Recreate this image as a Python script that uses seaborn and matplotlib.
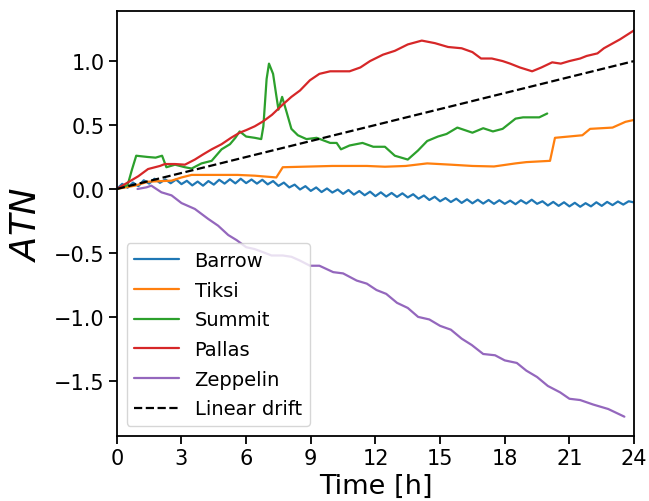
import numpy as np
import pandas as pd
import matplotlib
matplotlib.use("Agg")
import matplotlib.pyplot as plt
import seaborn as sns

# ---- data -----------------------------------------------------------------
barrow_t = [i * 0.25 for i in range(97)]
barrow_atn = [
    0.000, 0.040, 0.010, 0.050, 0.022, 0.068, 0.042, 0.080, 0.048, 0.075,
    0.045, 0.074, 0.038, 0.064, 0.028, 0.058, 0.026, 0.062, 0.034, 0.072,
    0.042, 0.076, 0.044, 0.080, 0.046, 0.074, 0.042, 0.072, 0.036, 0.062,
    0.024, 0.050, 0.012, 0.034, -0.004, 0.022, -0.015, 0.012, -0.024, 0.004,
    -0.028, -0.004, -0.038, -0.008, -0.044, -0.016, -0.049, -0.021, -0.056, -0.026,
    -0.059, -0.031, -0.062, -0.034, -0.066, -0.041, -0.076, -0.051, -0.086, -0.061,
    -0.096, -0.071, -0.102, -0.076, -0.109, -0.081, -0.112, -0.084, -0.114, -0.086,
    -0.116, -0.088, -0.116, -0.091, -0.119, -0.088, -0.114, -0.084, -0.116, -0.096,
    -0.129, -0.101, -0.132, -0.104, -0.136, -0.108, -0.139, -0.111, -0.136, -0.104,
    -0.132, -0.101, -0.126, -0.098, -0.122, -0.096, -0.105,
]

tiksi_t = [0, 0.84, 1.45, 2.54, 3.0, 3.47, 4.55, 5.6, 6.4, 7.4, 7.7, 10.0, 11.6,
           12.44, 13.4, 14.4, 15.5, 16.5, 17.5, 18.5, 19.0, 20.1, 20.33, 21.6,
           21.96, 23.0, 23.6, 24.0]
tiksi_atn = [0, 0.026, 0.057, 0.065, 0.09, 0.11, 0.11, 0.11, 0.104, 0.09, 0.17,
             0.18, 0.18, 0.174, 0.18, 0.20, 0.19, 0.18, 0.176, 0.20, 0.21, 0.22,
             0.40, 0.42, 0.47, 0.48, 0.525, 0.54]

summit_t = [0, 0.5, 0.7, 0.9, 1.44, 1.8, 2.1, 2.3, 2.7, 3.16, 3.47, 3.93, 4.4,
            4.86, 5.25, 5.5, 5.7, 6.0, 6.4, 6.7, 6.8, 6.95, 7.06, 7.25, 7.4, 7.5,
            7.67, 7.88, 8.1, 8.4, 8.8, 9.27, 9.9, 10.2, 10.4, 10.8, 11.4, 11.9,
            12.44, 12.9, 13.5, 13.97, 14.4, 14.9, 15.3, 15.8, 16.5, 17.0, 17.45,
            17.9, 18.5, 18.85, 19.6, 19.97]
summit_atn = [0, 0.03, 0.15, 0.26, 0.25, 0.245, 0.26, 0.17, 0.19, 0.17, 0.16,
              0.20, 0.22, 0.31, 0.35, 0.40, 0.45, 0.41, 0.40, 0.39, 0.49, 0.86,
              0.98, 0.90, 0.73, 0.62, 0.72, 0.60, 0.47, 0.42, 0.39, 0.40, 0.36,
              0.36, 0.31, 0.34, 0.36, 0.33, 0.33, 0.26, 0.23, 0.30, 0.375, 0.41,
              0.43, 0.48, 0.44, 0.475, 0.45, 0.47, 0.55, 0.56, 0.56, 0.59]

pallas_t = [0, 0.5, 1.0, 1.45, 2.0, 2.23, 2.7, 3.16, 3.62, 4.0, 4.4, 4.86, 5.3,
            5.7, 6.0, 6.4, 6.8, 7.2, 7.7, 8.1, 8.5, 8.96, 9.4, 9.9, 10.4, 10.8,
            11.3, 11.75, 12.35, 12.9, 13.5, 14.15, 14.76, 15.37, 16.0, 16.5,
            16.9, 17.4, 17.9, 18.25, 18.7, 19.27, 19.7, 20.2, 20.6, 21.0, 21.5,
            21.8, 22.3, 22.6, 23.35, 24.0]
pallas_atn = [0, 0.05, 0.10, 0.156, 0.18, 0.195, 0.195, 0.19, 0.23, 0.27, 0.31,
              0.35, 0.40, 0.44, 0.46, 0.49, 0.53, 0.58, 0.66, 0.72, 0.77, 0.85,
              0.90, 0.92, 0.92, 0.92, 0.95, 1.0, 1.05, 1.08, 1.13, 1.16, 1.14,
              1.11, 1.10, 1.07, 1.02, 1.02, 1.0, 0.98, 0.95, 0.92, 0.95, 0.99,
              0.98, 1.0, 1.02, 1.04, 1.06, 1.10, 1.17, 1.24]

zeppelin_t = [0.96, 1.38, 1.6, 2.07, 2.54, 3.0, 3.62, 4.24, 4.7, 5.17, 5.56, 6.0,
              6.4, 6.8, 7.18, 7.7, 8.1, 8.5, 8.96, 9.4, 10.04, 10.5, 11.13, 11.6,
              12.05, 12.5, 13.0, 13.5, 13.98, 14.5, 15.0, 15.5, 16.0, 16.47, 17.0,
              17.55, 18.0, 18.56, 19.0, 19.5, 20.0, 20.57, 21.0, 21.5, 22.1, 22.8,
              23.55]
zeppelin_atn = [0, 0.013, 0.026, -0.026, -0.05, -0.11, -0.156, -0.234, -0.287,
                -0.36, -0.40, -0.455, -0.47, -0.495, -0.52, -0.52, -0.53, -0.56,
                -0.60, -0.60, -0.65, -0.66, -0.716, -0.74, -0.79, -0.82, -0.89,
                -0.93, -1.0, -1.02, -1.07, -1.10, -1.17, -1.22, -1.29, -1.30,
                -1.34, -1.36, -1.42, -1.47, -1.54, -1.59, -1.64, -1.65, -1.685,
                -1.72, -1.78]

drift_t = [0, 24]
drift_atn = [0, 1]

stations = ["Barrow", "Tiksi", "Summit", "Pallas", "Zeppelin"]
series = {
    "Barrow": (barrow_t, barrow_atn),
    "Tiksi": (tiksi_t, tiksi_atn),
    "Summit": (summit_t, summit_atn),
    "Pallas": (pallas_t, pallas_atn),
    "Zeppelin": (zeppelin_t, zeppelin_atn),
}
x_ticks = [0, 3, 6, 9, 12, 15, 18, 21, 24]

# ---- figure ---------------------------------------------------------------
sns.set_style("ticks")
plt.rcParams["font.family"] = ["DejaVu Sans"]

fig = plt.figure(figsize=(6.49, 5.02), dpi=100)
ax = fig.add_axes([0.180, 0.1295, 0.797, 0.8465])

colors = sns.color_palette("tab10", 5)
for name, color in zip(stations, colors):
    t, v = series[name]
    df = pd.DataFrame({"t": t, "atn": v})
    sns.lineplot(data=df, x="t", y="atn", ax=ax, color=color, lw=1.6,
                 label=name, sort=False)

drift = pd.DataFrame({"t": drift_t, "atn": drift_atn})
sns.lineplot(data=drift, x="t", y="atn", ax=ax, color="black", lw=1.6,
             linestyle="--", label="Linear drift")

ax.set_xlim(0, 24)
ax.set_xticks(x_ticks)
ax.set_yticks([-1.5, -1.0, -0.5, 0.0, 0.5, 1.0])
ax.set_xlabel("Time [h]", fontsize=19.5, labelpad=3, color="black")
ax.set_ylabel("$ATN$", fontsize=25.5, labelpad=8, color="black")
ax.tick_params(axis="both", labelsize=15, length=6, width=1.3,
               colors="black", direction="out", pad=3)
for s in ax.spines.values():
    s.set_linewidth(1.3)
    s.set_color("black")

leg = ax.legend(loc="lower left", fontsize=14, handlelength=2.3,
                labelspacing=0.55, frameon=True)
for text in leg.get_texts():
    text.set_color("black")
for line in leg.get_lines():
    line.set_linewidth(1.6)

fig.savefig("out.png", dpi=100)
